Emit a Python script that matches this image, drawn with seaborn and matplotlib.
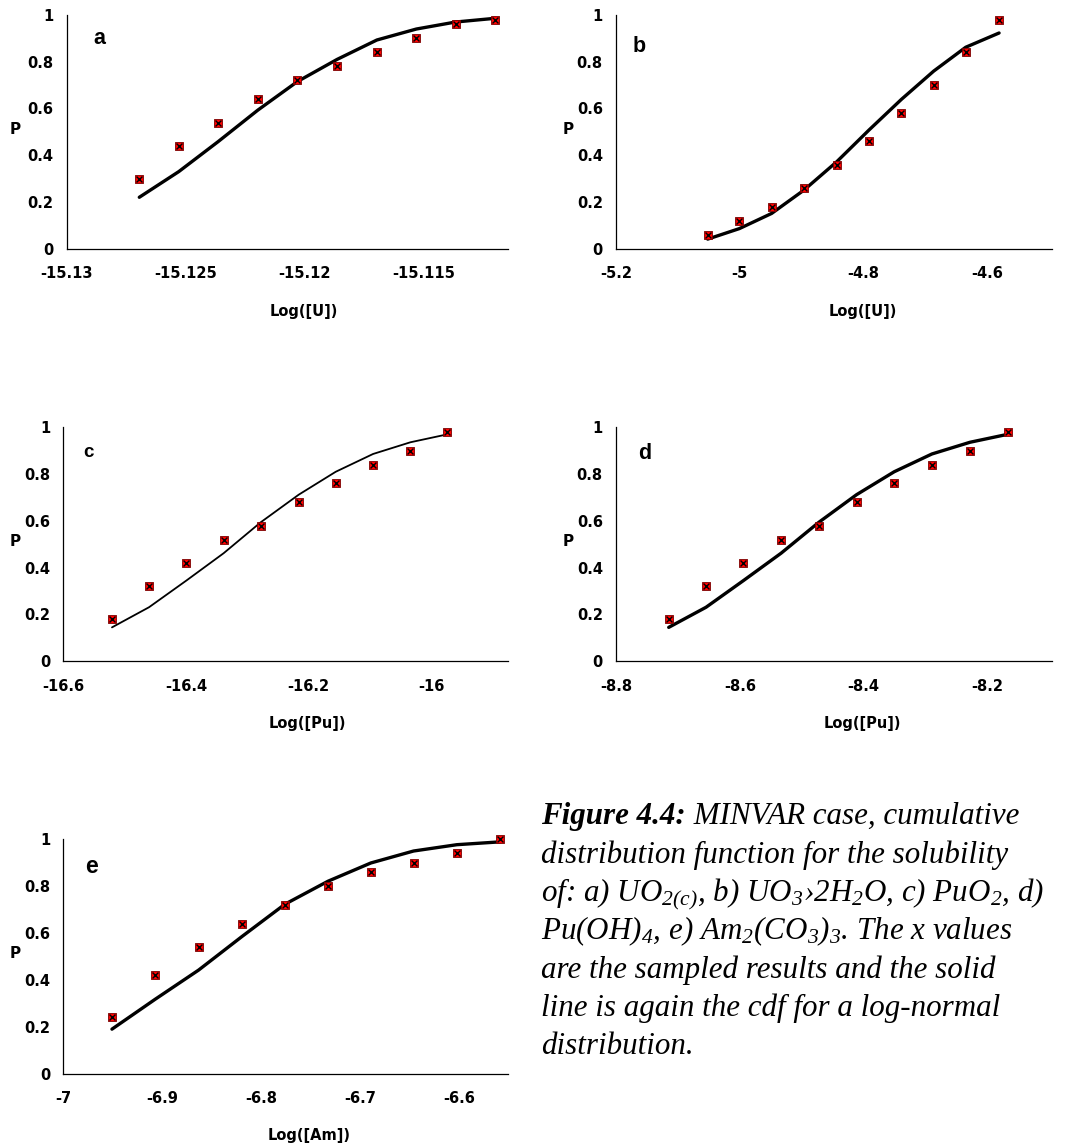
import matplotlib
matplotlib.use("Agg")
import matplotlib.pyplot as plt
import seaborn as sns
import pandas as pd

# ---------------- data ----------------
a_x = [-15.12695, -15.12529, -15.12364, -15.12197, -15.12031, -15.11864, -15.11697, -15.11531, -15.11366, -15.11199]
a_p = [0.30, 0.44, 0.54, 0.64, 0.72, 0.78, 0.84, 0.90, 0.96, 0.98]
a_cdf = [0.22, 0.33, 0.458, 0.593, 0.715, 0.81, 0.893, 0.94, 0.97, 0.986]

b_x = [-5.0519, -5.0007, -4.9485, -4.8962, -4.8434, -4.7912, -4.7389, -4.6867, -4.635, -4.5811]
b_p = [0.06, 0.12, 0.18, 0.26, 0.36, 0.46, 0.58, 0.70, 0.84, 0.98]
b_cdf = [0.041, 0.086, 0.151, 0.251, 0.372, 0.508, 0.639, 0.76, 0.862, 0.923]

c_x = [-16.5206, -16.4602, -16.3993, -16.3384, -16.278, -16.216, -16.1556, -16.0947, -16.0338, -15.9734]
c_p = [0.18, 0.32, 0.42, 0.52, 0.58, 0.68, 0.76, 0.84, 0.90, 0.98]
c_cdf = [0.145, 0.231, 0.345, 0.462, 0.594, 0.712, 0.81, 0.886, 0.936, 0.97]

d_x = [-8.7149, -8.6546, -8.5942, -8.5334, -8.4725, -8.4116, -8.3508, -8.2899, -8.2285, -8.1676]
d_p = [0.18, 0.32, 0.42, 0.52, 0.58, 0.68, 0.76, 0.84, 0.90, 0.98]
d_cdf = [0.145, 0.231, 0.345, 0.462, 0.594, 0.712, 0.81, 0.886, 0.936, 0.97]

e_x = [-6.9508, -6.9073, -6.8632, -6.8194, -6.7759, -6.7324, -6.689, -6.6458, -6.602, -6.5586]
e_p = [0.24, 0.42, 0.54, 0.64, 0.72, 0.80, 0.86, 0.90, 0.94, 1.00]
e_cdf = [0.19, 0.317, 0.442, 0.585, 0.723, 0.821, 0.899, 0.95, 0.977, 0.989]

y_ticks = [0, 0.2, 0.4, 0.6, 0.8, 1.0]
y_ticklabels = ["0", "0.2", "0.4", "0.6", "0.8", "1"]

a_xticks = [-15.13, -15.125, -15.12, -15.115]
a_xticklabels = ["-15.13", "-15.125", "-15.12", "-15.115"]
b_xticks = [-5.2, -5.0, -4.8, -4.6]
b_xticklabels = ["-5.2", "-5", "-4.8", "-4.6"]
c_xticks = [-16.6, -16.4, -16.2, -16.0]
c_xticklabels = ["-16.6", "-16.4", "-16.2", "-16"]
d_xticks = [-8.8, -8.6, -8.4, -8.2]
d_xticklabels = ["-8.8", "-8.6", "-8.4", "-8.2"]
e_xticks = [-7.0, -6.9, -6.8, -6.7, -6.6]
e_xticklabels = ["-7", "-6.9", "-6.8", "-6.7", "-6.6"]

panel_letters = ["a", "b", "c", "d", "e"]
x_labels = ["Log([U])", "Log([U])", "Log([Pu])", "Log([Pu])", "Log([Am])"]

# ---------------- style ----------------
sns.set_theme(style="white")
plt.rcParams["font.family"] = ["DejaVu Sans"]
plt.rcParams["text.color"] = "black"
plt.rcParams["mathtext.fontset"] = "custom"
plt.rcParams["mathtext.default"] = "regular"

W, H = 1070, 1146
fig = plt.figure(figsize=(W / 100, H / 100), dpi=100)
fig.patch.set_facecolor("white")


def px_axes(l, t, r, b):
    return fig.add_axes([l / W, 1 - b / H, (r - l) / W, (b - t) / H])


def fx(x):
    return x / W


def fy(y):
    return 1 - y / H


panels = [
    dict(x=a_x, p=a_p, cdf=a_cdf, rect=(66.7, 15, 508, 248.7), xlim=(-15.13, -15.11146),
         xt=a_xticks, xtl=a_xticklabels, lw=2.4,
         letter=(93, 44.3, 15.5), P=(10, 129.3), xl=(304, 311.7)),
    dict(x=b_x, p=b_p, cdf=b_cdf, rect=(616, 15, 1052, 248.7), xlim=(-5.2, -4.4956),
         xt=b_xticks, xtl=b_xticklabels, lw=2.4,
         letter=(633, 52.3, 15.5), P=(562.7, 129.3), xl=(862.7, 311.7)),
    dict(x=c_x, p=c_p, cdf=c_cdf, rect=(63.3, 427.3, 508, 661.3), xlim=(-16.6, -15.8746),
         xt=c_xticks, xtl=c_xticklabels, lw=1.3,
         letter=(83, 457.3, 13.5), P=(10, 541.7), xl=(307.3, 723.3)),
    dict(x=d_x, p=d_p, cdf=d_cdf, rect=(616, 427.3, 1052, 661.3), xlim=(-8.8, -8.096),
         xt=d_xticks, xtl=d_xticklabels, lw=2.4,
         letter=(638, 459.3, 15.5), P=(562.7, 541.7), xl=(862.7, 723.3)),
    dict(x=e_x, p=e_p, cdf=e_cdf, rect=(63.3, 839.3, 508.3, 1073.7), xlim=(-7.0, -6.55),
         xt=e_xticks, xtl=e_xticklabels, lw=2.4,
         letter=(85, 873.3, 16.5), P=(10, 953.3), xl=(309.3, 1135.7)),
]

tick_font = dict(family="DejaVu Sans", weight="bold", size=10.5)

for i, pnl in enumerate(panels):
    ax = px_axes(*pnl["rect"])
    df = pd.DataFrame({"x": pnl["x"], "p": pnl["p"], "cdf": pnl["cdf"]})
    sns.lineplot(data=df, x="x", y="cdf", ax=ax, color="black", linewidth=pnl["lw"],
                 estimator=None, sort=False, zorder=2)
    sns.scatterplot(data=df, x="x", y="p", ax=ax, marker="s", color="#ff0000", s=40,
                    edgecolor="#7a0000", linewidth=0.6, zorder=3, clip_on=False)
    sns.scatterplot(data=df, x="x", y="p", ax=ax, marker="x", color="black", s=18,
                    linewidth=1.0, zorder=4, clip_on=False)
    ax.set_xlim(*pnl["xlim"])
    ax.set_ylim(0, 1)
    ax.set_xticks(pnl["xt"])
    ax.set_xticklabels(pnl["xtl"], fontdict=tick_font)
    ax.set_yticks(y_ticks)
    ax.set_yticklabels(y_ticklabels, fontdict=tick_font)
    ax.set_xlabel("")
    ax.set_ylabel("")
    ax.grid(False)
    for s in ["top", "right"]:
        ax.spines[s].set_visible(False)
    for s in ["left", "bottom"]:
        ax.spines[s].set_color("black")
        ax.spines[s].set_linewidth(0.9)
    ax.tick_params(axis="both", direction="inout", length=7, width=0.9, color="black",
                   labelcolor="black")
    ax.tick_params(axis="y", pad=6)
    ax.tick_params(axis="x", pad=9)
    ax.set_facecolor("white")

    lx, ly, ls = pnl["letter"]
    fig.text(fx(lx), fy(ly), panel_letters[i], family="Liberation Sans", weight="bold",
             size=ls, ha="left", va="baseline", color="black")
    fig.text(fx(pnl["P"][0]), fy(pnl["P"][1]), "P", family="DejaVu Sans", weight="bold",
             size=11, ha="left", va="center", color="black")
    fig.text(fx(pnl["xl"][0]), fy(pnl["xl"][1]), x_labels[i], family="DejaVu Sans",
             weight="bold", size=10.5, ha="center", va="center", color="black")

# ---------------- caption ----------------
cap_x = 541
cap_base = [824.3, 862.7, 901.0, 939.3, 977.7, 1016.0, 1054.3]
cap_lines = [
    None,
    "distribution function for the solubility",
    "of: a) UO$_{2(c)}$, b) UO$_{3}$›2H$_{2}$O, c) PuO$_{2}$, d)",
    "Pu(OH)$_{4}$, e) Am$_{2}$(CO$_{3}$)$_{3}$. The x values",
    "are the sampled results and the solid",
    "line is again the cdf for a log-normal",
    "distribution.",
]

renderer = fig.canvas.get_renderer()
probe = fig.text(0, 0, cap_lines[1], family="Liberation Serif", style="italic", size=20)
w = probe.get_window_extent(renderer).width
probe.remove()
cap_size = 20 * 467 / w

t1 = fig.text(fx(cap_x), fy(cap_base[0]), "Figure 4.4:", family="Liberation Serif",
              style="italic", weight="bold", size=cap_size, ha="left", va="baseline",
              color="black")
x1 = t1.get_window_extent(renderer).x1
fig.text(x1 / W, fy(cap_base[0]), " MINVAR case, cumulative", family="Liberation Serif",
         style="italic", size=cap_size, ha="left", va="baseline", color="black")
for k in range(1, 7):
    fig.text(fx(cap_x), fy(cap_base[k]), cap_lines[k], family="Liberation Serif",
             style="italic", size=cap_size, ha="left", va="baseline", color="black")

fig.savefig("out.png", dpi=100, facecolor="white")
